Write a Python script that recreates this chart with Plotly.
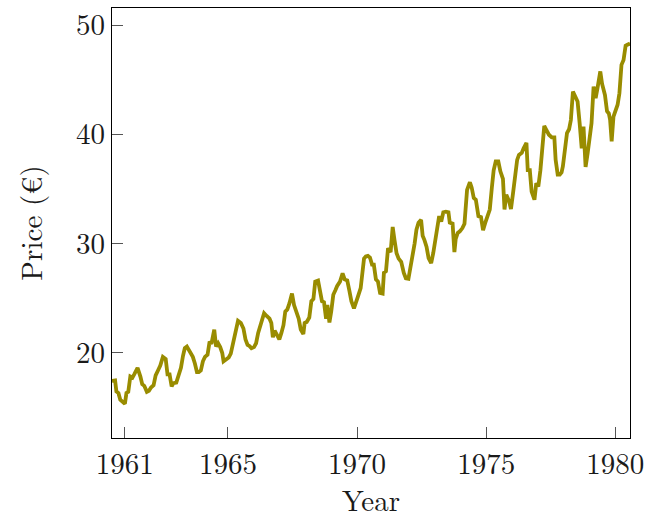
import plotly.graph_objects as go

years = [
    1960.51, 1960.55, 1960.63, 1960.68, 1960.76, 1960.83, 1960.94, 1961.01, 1961.07, 1961.14,
    1961.22, 1961.30, 1961.37, 1961.50, 1961.61, 1961.68, 1961.76, 1961.86, 1961.94, 1962.02,
    1962.12, 1962.20, 1962.30, 1962.38, 1962.48, 1962.59, 1962.66, 1962.74, 1962.82, 1962.89,
    1963.00, 1963.10, 1963.18, 1963.26, 1963.33, 1963.41, 1963.49, 1963.56, 1963.64, 1963.72,
    1963.80, 1963.87, 1963.95, 1964.03, 1964.11, 1964.21, 1964.29, 1964.36, 1964.47, 1964.54,
    1964.62, 1964.70, 1964.78, 1964.83, 1964.93, 1965.03, 1965.11, 1965.21, 1965.32, 1965.39,
    1965.50, 1965.60, 1965.68, 1965.76, 1965.83, 1965.91, 1966.01, 1966.09, 1966.17, 1966.25,
    1966.32, 1966.40, 1966.50, 1966.61, 1966.68, 1966.74, 1966.81, 1966.89, 1966.99, 1967.07,
    1967.15, 1967.22, 1967.30, 1967.38, 1967.48, 1967.56, 1967.66, 1967.74, 1967.82, 1967.92,
    1967.97, 1968.05, 1968.15, 1968.23, 1968.31, 1968.38, 1968.49, 1968.56, 1968.64, 1968.72,
    1968.80, 1968.85, 1968.93, 1969.00, 1969.08, 1969.16, 1969.23, 1969.34, 1969.44, 1969.52,
    1969.62, 1969.70, 1969.78, 1969.88, 1969.96, 1970.03, 1970.14, 1970.21, 1970.27, 1970.34,
    1970.42, 1970.50, 1970.58, 1970.65, 1970.73, 1970.81, 1970.89, 1970.99, 1971.04, 1971.12,
    1971.20, 1971.30, 1971.38, 1971.45, 1971.53, 1971.61, 1971.71, 1971.81, 1971.89, 1971.99,
    1972.07, 1972.15, 1972.23, 1972.30, 1972.38, 1972.48, 1972.54, 1972.61, 1972.69, 1972.77,
    1972.87, 1972.95, 1973.03, 1973.10, 1973.18, 1973.26, 1973.34, 1973.44, 1973.54, 1973.59,
    1973.70, 1973.77, 1973.82, 1973.90, 1973.98, 1974.08, 1974.16, 1974.26, 1974.37, 1974.44,
    1974.52, 1974.60, 1974.70, 1974.80, 1974.88, 1974.96, 1975.06, 1975.14, 1975.22, 1975.29,
    1975.37, 1975.47, 1975.55, 1975.65, 1975.71, 1975.78, 1975.89, 1975.96, 1976.04, 1976.12,
    1976.20, 1976.27, 1976.38, 1976.45, 1976.56, 1976.61, 1976.69, 1976.76, 1976.87, 1976.94,
    1977.02, 1977.10, 1977.18, 1977.25, 1977.33, 1977.43, 1977.54, 1977.64, 1977.69, 1977.77,
    1977.85, 1977.92, 1977.97, 1978.05, 1978.13, 1978.21, 1978.28, 1978.36, 1978.44, 1978.54,
    1978.62, 1978.70, 1978.77, 1978.85, 1978.93, 1979.01, 1979.08, 1979.16, 1979.24, 1979.31,
    1979.42, 1979.49, 1979.60, 1979.68, 1979.75, 1979.80, 1979.86, 1979.93, 1980.01, 1980.09,
    1980.16, 1980.24, 1980.32, 1980.40, 1980.47, 1980.57,
]

prices = [
    17.40, 17.44, 17.44, 16.43, 16.28, 15.67, 15.43, 15.30, 16.30, 16.40,
    17.80, 17.70, 18.00, 18.60, 17.80, 17.10, 16.95, 16.40, 16.50, 16.80,
    17.00, 17.90, 18.40, 18.80, 19.60, 19.40, 18.00, 18.00, 16.90, 17.20,
    17.25, 18.00, 18.60, 19.70, 20.40, 20.55, 20.20, 19.80, 19.60, 19.00,
    18.20, 18.20, 18.35, 19.20, 19.60, 19.80, 21.00, 20.80, 22.10, 20.55,
    20.85, 20.50, 19.95, 19.20, 19.40, 19.55, 19.90, 20.90, 22.10, 22.90,
    22.70, 22.20, 21.20, 20.70, 20.60, 20.40, 20.50, 20.85, 21.80, 22.40,
    22.90, 23.60, 23.35, 23.10, 22.70, 21.40, 22.00, 21.60, 21.20, 21.80,
    22.50, 23.75, 23.95, 24.50, 25.40, 24.35, 23.75, 23.10, 22.10, 21.70,
    22.70, 22.80, 23.20, 24.70, 24.90, 26.50, 26.60, 25.70, 24.70, 24.60,
    23.10, 24.35, 22.75, 23.75, 25.30, 25.70, 26.10, 26.50, 27.25, 26.70,
    26.60, 25.70, 24.70, 24.05, 24.50, 25.10, 25.90, 27.10, 28.60, 28.80,
    28.85, 28.70, 28.05, 28.05, 26.70, 26.50, 25.45, 25.40, 27.30, 27.45,
    29.55, 29.20, 31.50, 30.30, 29.10, 28.60, 28.30, 27.30, 26.80, 26.75,
    27.70, 28.75, 30.00, 31.25, 31.90, 32.15, 30.70, 30.30, 29.70, 28.65,
    28.20, 29.10, 30.30, 30.80, 32.50, 32.00, 32.85, 32.90, 32.85, 31.90,
    31.80, 29.20, 30.40, 30.95, 31.10, 31.40, 31.80, 34.90, 35.60, 35.10,
    34.15, 34.00, 32.50, 32.40, 31.20, 31.85, 32.60, 33.10, 35.10, 36.70,
    37.50, 37.50, 36.60, 35.90, 33.10, 34.45, 33.85, 33.15, 34.60, 36.40,
    37.65, 38.10, 38.30, 38.70, 39.20, 36.70, 36.70, 34.75, 34.00, 35.50,
    35.20, 36.70, 39.20, 40.75, 40.40, 39.95, 39.70, 39.70, 37.65, 36.30,
    36.30, 36.50, 37.05, 38.70, 40.10, 40.45, 41.30, 43.90, 43.50, 43.00,
    41.00, 38.70, 40.70, 37.00, 38.25, 40.10, 41.00, 44.35, 43.30, 44.20,
    45.75, 44.60, 43.60, 42.10, 41.90, 41.30, 39.35, 41.60, 42.10, 42.70,
    43.75, 46.35, 46.80, 48.10, 48.20, 48.30,
]

x_ticks = [1961, 1965, 1970, 1975, 1980]
x_tick_labels = ["1961", "1965", "1970", "1975", "1980"]
y_ticks = [20, 30, 40, 50]
y_tick_labels = ["20", "30", "40", "50"]

FONT = "Latin Modern Roman, CMU Serif, Liberation Serif, DejaVu Serif, serif"

fig = go.Figure()
fig.add_trace(go.Scatter(
    x=years, y=prices, mode="lines",
    line=dict(color="#998c00", width=3.8),
    showlegend=False,
))

axis_common = dict(
    showline=True, linecolor="black", linewidth=1.2, mirror=True,
    ticks="inside", ticklen=11, tickwidth=1, tickcolor="#555555",
    showgrid=False, zeroline=False, automargin=False,
    tickfont=dict(family=FONT, size=29, color="#1a1a1a"),
)

fig.update_layout(
    width=646, height=519,
    margin=dict(l=112, r=16, t=8, b=81),
    paper_bgcolor="white", plot_bgcolor="white",
    font=dict(family=FONT, color="#1a1a1a"),
    xaxis=dict(
        range=[1960.51, 1980.57],
        tickmode="array", tickvals=x_ticks, ticktext=x_tick_labels,
        title=dict(text="Year", font=dict(family=FONT, size=29), standoff=12),
        **axis_common,
    ),
    yaxis=dict(
        range=[12.17, 51.56],
        tickmode="array", tickvals=y_ticks, ticktext=y_tick_labels,
        title=dict(text="Price (€)", font=dict(family=FONT, size=29), standoff=24),
        **axis_common,
    ),
)

fig.write_html(
    "out.html",
    config={"displayModeBar": False},
    post_script="document.body.style.margin='0';document.body.style.padding='0';",
)
